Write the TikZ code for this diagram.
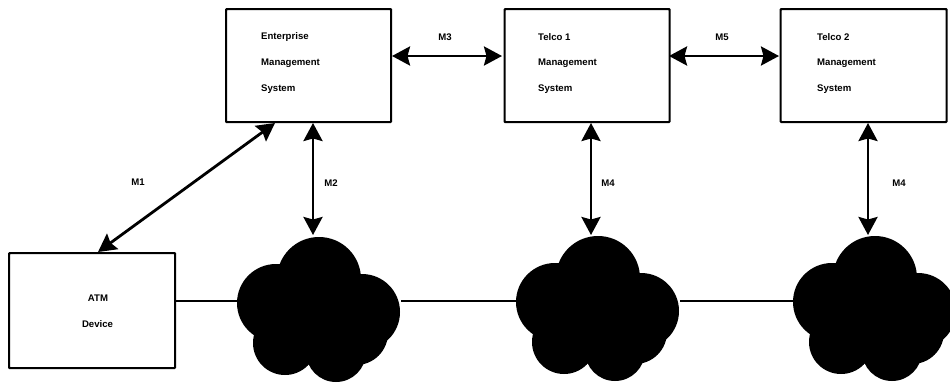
\documentclass[tikz,border=0pt]{standalone}
\usepackage{fontspec}
\setmainfont{Liberation Sans}
\usetikzlibrary{arrows.meta}
\tikzset{
  x=1pt,y=-1pt,
  boxnode/.style={draw=black,line width=2.2pt,fill=white,minimum width=165pt,minimum height=113pt,anchor=north west,inner sep=0pt,rounded corners=0.8pt},
  txt/.style={font=\fontsize{9.6}{9.6}\selectfont\bfseries,anchor=west,inner sep=0pt},
  ctxt/.style={font=\fontsize{9.6}{9.6}\selectfont\bfseries,inner sep=0pt},
  link/.style={line width=2.5pt,black},
  both/.style={line width=2.8pt,black,{Stealth[length=18pt,width=19pt,inset=2.5pt]}-{Stealth[length=18pt,width=19pt,inset=2.5pt]}},
}
\newcommand{\blob}[3]{%
 \begin{scope}[shift={(#1,#2)}]
  \fill[black] (7,278) circle[radius=42] (-36,302) circle[radius=39] (50,311) circle[radius=38]
   (-27,342) circle[radius=32] (24,351) circle[radius=30] (44,332) circle[radius=32] (5,310) circle[radius=45];
  \coordinate (#3w) at (-74,301);
  \coordinate (#3e) at (89,301);
 \end{scope}}
\begin{document}
\begin{tikzpicture}
\useasboundingbox (0,0) rectangle (950,383);
\begin{scope}
\clip (0,0) rectangle (950,383);
\node[boxnode] (ems) at (225,8) {};
\node[boxnode] (t1) at (503.5,8) {};
\node[boxnode,minimum width=166pt] (t2) at (779.5,8) {};
\node[boxnode,minimum width=166pt,minimum height=115pt] (atm) at (8,252) {};
\node[txt] (e1) at (261,37.5) {Enterprise};
\node[txt] (e2) at (261,63) {Management};
\node[txt] (e3) at (261,89) {System};
\node[txt] (a1) at (538,37.5) {Telco 1};
\node[txt] (a2) at (538,63) {Management};
\node[txt] (a3) at (538,89) {System};
\node[txt] (b1) at (817,37.5) {Telco 2};
\node[txt] (b2) at (817,63) {Management};
\node[txt] (b3) at (817,89) {System};
\node[ctxt] (d1) at (98,298) {ATM};
\node[ctxt] (d2) at (97.5,324) {Device};
\blob{312}{1}{c1}
\blob{591}{0}{c2}
\blob{868}{0}{c3}
\node[ctxt] (m1) at (138,182) {M1};
\node[ctxt] (m2) at (331,183) {M2};
\node[ctxt] (m3) at (445,37) {M3};
\node[ctxt] (m4a) at (608,183) {M4};
\node[ctxt] (m5) at (722,37) {M5};
\node[ctxt] (m4b) at (899,183) {M4};
\coordinate (p1) at (275,123);
\coordinate (p2) at (98,252);
\coordinate (p3) at (313,123);
\coordinate (p4) at (591,123);
\coordinate (p5) at (868,123);
\coordinate (c1top) at (313,235);
\coordinate (c2top) at (591,235);
\coordinate (c3top) at (868,235);
\draw[both] (p1) -- (p2);
\draw[both] (p3) -- (c1top);
\draw[both] (392,56) coordinate (h1) -- (502,56) coordinate (h2);
\draw[both] (669,56) coordinate (h3) -- (779,56) coordinate (h4);
\draw[both] (p4) -- (c2top);
\draw[both] (p5) -- (c3top);
\draw[link] (atm.east |- c2w) -- (c1w |- c2w);
\draw[link] (c1e |- c2w) -- (c2w);
\draw[link] (c2e) -- (c3w);
\end{scope}
\end{tikzpicture}
\end{document}
